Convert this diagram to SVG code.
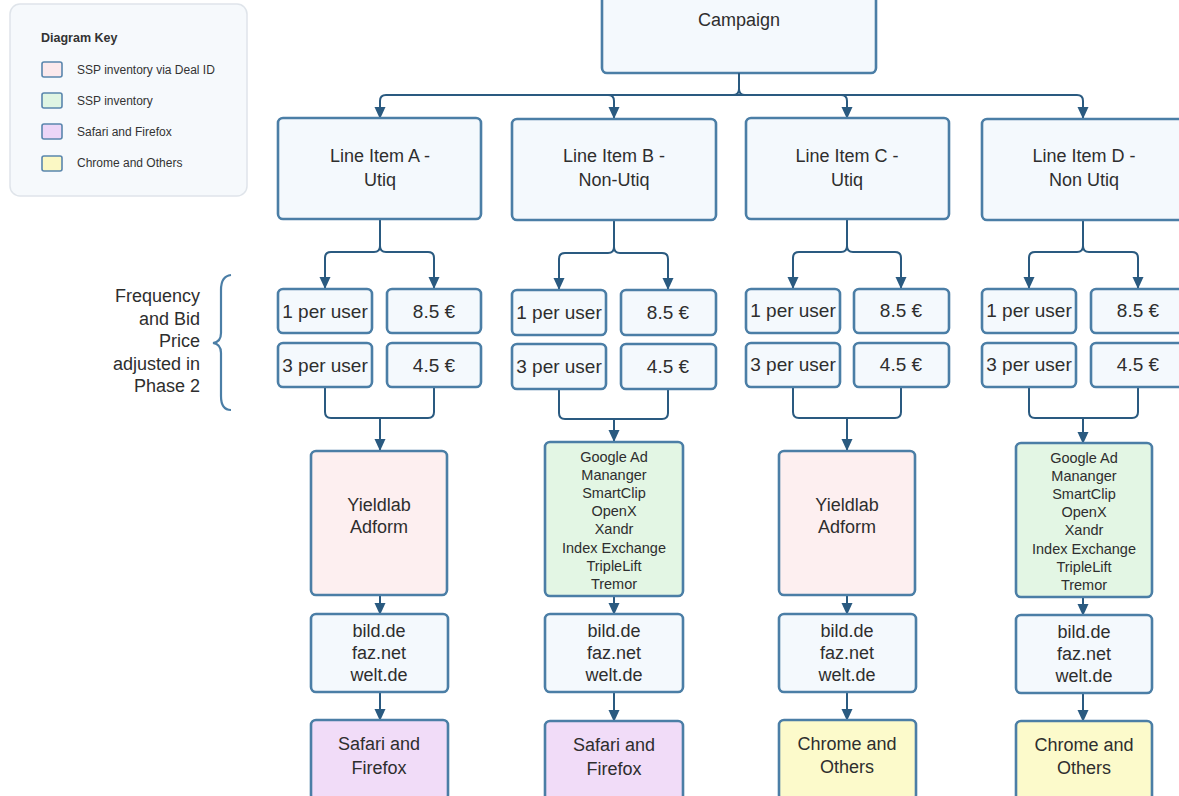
<svg xmlns="http://www.w3.org/2000/svg" width="1179" height="796" viewBox="0 0 1179 796">
<defs>
<style>
.n{fill:#f4f9fd;stroke:#4b7ea6;stroke-width:2.6}
.pink{fill:#fdeff0}
.green{fill:#e3f6e4}
.purple{fill:#f1dcf8}
.yellow{fill:#fcfacb}
.t{font-family:"Liberation Sans",Arial,sans-serif;font-size:18px;fill:#2e2e2e;text-anchor:middle}
.r{font-family:"Liberation Sans",Arial,sans-serif;font-size:18px;fill:#2e2e2e;text-anchor:end}
.s{font-family:"Liberation Sans",Arial,sans-serif;font-size:14.5px;fill:#2e2e2e;text-anchor:middle}
.c{fill:none;stroke:#2a5a80;stroke-width:2}
.k{font-family:"Liberation Sans",Arial,sans-serif;font-size:12px;fill:#333}
.sw{stroke:#5a86ad;stroke-width:1.6}
</style>
<marker id="a" viewBox="0 0 12 12" refX="11" refY="6" markerWidth="12" markerHeight="12" markerUnits="userSpaceOnUse" orient="auto">
<path d="M0,0.5 L12,6 L0,11.5 z" fill="#2a5a80"/>
</marker>
</defs>
<rect width="1179" height="796" fill="#ffffff"/>

<g id="legend">
<rect x="10" y="4" width="237" height="192" rx="10" fill="#f6f9fc" stroke="#dfe4ea" stroke-width="1.5"/>
<text class="k" x="41" y="42" font-weight="bold" style="font-size:12.5px">Diagram Key</text>
<rect class="sw" x="42" y="62" width="20" height="15" rx="2" fill="#fbe9ec"/>
<text class="k" x="77" y="74">SSP inventory via Deal ID</text>
<rect class="sw" x="42" y="93" width="20" height="15" rx="2" fill="#dff5e3"/>
<text class="k" x="77" y="105">SSP inventory</text>
<rect class="sw" x="42" y="124" width="20" height="15" rx="2" fill="#ecd6f7"/>
<text class="k" x="77" y="136">Safari and Firefox</text>
<rect class="sw" x="42" y="156" width="20" height="15" rx="2" fill="#fbf8c4"/>
<text class="k" x="77" y="167">Chrome and Others</text>
</g>

<g id="phase-note">
<path d="M231,275 Q221,276 221,290 V333 Q221,342 213,343 Q221,344 221,353 V396 Q221,410 231,410" fill="none" stroke="#4b7ea6" stroke-width="2.2"/>
<text class="r" x="200" y="302">Frequency</text>
<text class="r" x="200" y="325">and Bid</text>
<text class="r" x="200" y="347">Price</text>
<text class="r" x="200" y="370">adjusted in</text>
<text class="r" x="200" y="392">Phase 2</text>
</g>

<g id="campaign">
<rect class="n" x="602" y="-8" width="274" height="81" rx="5"/>
<text class="t" x="739" y="26">Campaign</text>
</g>

<g id="connectors">
<path class="c" marker-end="url(#a)" d="M739,73 V89 Q739,95 733,95 H386 Q380,95 380,101 V118"/>
<path class="c" marker-end="url(#a)" d="M739,73 V89 Q739,95 745,95 H841 Q847,95 847,101 V118"/>
<path class="c" marker-end="url(#a)" d="M739,95 H608 Q614,95 614,101 V118"/>
<path class="c" marker-end="url(#a)" d="M739,95 H1077 Q1083,95 1083,101 V118"/>

<path class="c" marker-end="url(#a)" d="M380,219 V246 Q380,252 374,252 H331 Q325,252 325,258 V288"/>
<path class="c" marker-end="url(#a)" d="M380,219 V246 Q380,252 386,252 H428 Q434,252 434,258 V288"/>
<path class="c" d="M325,387 V412 Q325,418 331,418 H428 Q434,418 434,412 V387"/>
<path class="c" marker-end="url(#a)" d="M380,418 V450"/>
<path class="c" marker-end="url(#a)" d="M380,595 V614"/>
<path class="c" marker-end="url(#a)" d="M380,692 V720"/>

<path class="c" marker-end="url(#a)" d="M614,221 V247 Q614,253 608,253 H565 Q559,253 559,259 V289"/>
<path class="c" marker-end="url(#a)" d="M614,221 V247 Q614,253 620,253 H662 Q668,253 668,259 V289"/>
<path class="c" d="M559,389 V413 Q559,419 565,419 H662 Q668,419 668,413 V389"/>
<path class="c" marker-end="url(#a)" d="M614,419 V441"/>
<path class="c" marker-end="url(#a)" d="M614,596 V614"/>
<path class="c" marker-end="url(#a)" d="M614,692 V721"/>

<path class="c" marker-end="url(#a)" d="M847,220 V246 Q847,252 841,252 H799 Q793,252 793,258 V288"/>
<path class="c" marker-end="url(#a)" d="M847,220 V246 Q847,252 853,252 H895 Q901,252 901,258 V288"/>
<path class="c" d="M793,387 V412 Q793,418 799,418 H895 Q901,418 901,412 V387"/>
<path class="c" marker-end="url(#a)" d="M847,418 V450"/>
<path class="c" marker-end="url(#a)" d="M847,595 V614"/>
<path class="c" marker-end="url(#a)" d="M847,692 V720"/>

<path class="c" marker-end="url(#a)" d="M1083,220 V246 Q1083,252 1077,252 H1035 Q1029,252 1029,258 V288"/>
<path class="c" marker-end="url(#a)" d="M1083,220 V246 Q1083,252 1089,252 H1132 Q1138,252 1138,258 V288"/>
<path class="c" d="M1029,387 V412 Q1029,418 1035,418 H1132 Q1138,418 1138,412 V387"/>
<path class="c" marker-end="url(#a)" d="M1083,418 V443"/>
<path class="c" marker-end="url(#a)" d="M1083,597 V615"/>
<path class="c" marker-end="url(#a)" d="M1083,693 V721"/>
</g>

<g id="line-item-a">
<rect class="n" x="278" y="118" width="203" height="101" rx="5"/>
<text class="t" x="380" y="162">Line Item A -</text>
<text class="t" x="380" y="186">Utiq</text>
</g>
<g id="line-item-b">
<rect class="n" x="512" y="119" width="204" height="101" rx="5"/>
<text class="t" x="614" y="162">Line Item B -</text>
<text class="t" x="614" y="186">Non-Utiq</text>
</g>
<g id="line-item-c">
<rect class="n" x="746" y="118" width="203" height="101" rx="5"/>
<text class="t" x="847" y="162">Line Item C -</text>
<text class="t" x="847" y="186">Utiq</text>
</g>
<g id="line-item-d">
<rect class="n" x="982" y="119" width="204" height="101" rx="5"/>
<text class="t" x="1084" y="162">Line Item D -</text>
<text class="t" x="1084" y="186">Non Utiq</text>
</g>

<g id="a-freq1"><rect class="n" x="278" y="289" width="94" height="44" rx="5"/><text class="t" x="325" y="318" style="font-size:19px">1 per user</text></g>
<g id="a-price1"><rect class="n" x="387" y="289" width="94" height="44" rx="5"/><text class="t" x="434" y="318" style="font-size:19px">8.5 €</text></g>
<g id="a-freq3"><rect class="n" x="278" y="343" width="94" height="44" rx="5"/><text class="t" x="325" y="372" style="font-size:19px">3 per user</text></g>
<g id="a-price2"><rect class="n" x="387" y="343" width="94" height="44" rx="5"/><text class="t" x="434" y="372" style="font-size:19px">4.5 €</text></g>

<g id="b-freq1"><rect class="n" x="512" y="290" width="94" height="45" rx="5"/><text class="t" x="559" y="319" style="font-size:19px">1 per user</text></g>
<g id="b-price1"><rect class="n" x="621" y="290" width="95" height="45" rx="5"/><text class="t" x="668" y="319" style="font-size:19px">8.5 €</text></g>
<g id="b-freq3"><rect class="n" x="512" y="344" width="94" height="45" rx="5"/><text class="t" x="559" y="373" style="font-size:19px">3 per user</text></g>
<g id="b-price2"><rect class="n" x="621" y="344" width="95" height="45" rx="5"/><text class="t" x="668" y="373" style="font-size:19px">4.5 €</text></g>

<g id="c-freq1"><rect class="n" x="746" y="289" width="94" height="44" rx="5"/><text class="t" x="793" y="317" style="font-size:19px">1 per user</text></g>
<g id="c-price1"><rect class="n" x="854" y="289" width="95" height="44" rx="5"/><text class="t" x="901" y="317" style="font-size:19px">8.5 €</text></g>
<g id="c-freq3"><rect class="n" x="746" y="343" width="94" height="44" rx="5"/><text class="t" x="793" y="371" style="font-size:19px">3 per user</text></g>
<g id="c-price2"><rect class="n" x="854" y="343" width="95" height="44" rx="5"/><text class="t" x="901" y="371" style="font-size:19px">4.5 €</text></g>

<g id="d-freq1"><rect class="n" x="982" y="289" width="94" height="44" rx="5"/><text class="t" x="1029" y="317" style="font-size:19px">1 per user</text></g>
<g id="d-price1"><rect class="n" x="1091" y="289" width="95" height="44" rx="5"/><text class="t" x="1138" y="317" style="font-size:19px">8.5 €</text></g>
<g id="d-freq3"><rect class="n" x="982" y="343" width="94" height="44" rx="5"/><text class="t" x="1029" y="371" style="font-size:19px">3 per user</text></g>
<g id="d-price2"><rect class="n" x="1091" y="343" width="95" height="44" rx="5"/><text class="t" x="1138" y="371" style="font-size:19px">4.5 €</text></g>

<g id="a-ssp">
<rect class="n pink" x="311" y="451" width="136" height="144" rx="5"/>
<text class="t" x="379" y="511">Yieldlab</text>
<text class="t" x="379" y="533">Adform</text>
</g>
<g id="b-ssp">
<rect class="n green" x="545" y="442" width="138" height="154" rx="5"/>
<text class="s" x="614" y="462">Google Ad</text>
<text class="s" x="614" y="480">Mananger</text>
<text class="s" x="614" y="498">SmartClip</text>
<text class="s" x="614" y="516">OpenX</text>
<text class="s" x="614" y="534">Xandr</text>
<text class="s" x="614" y="553">Index Exchange</text>
<text class="s" x="614" y="571">TripleLift</text>
<text class="s" x="614" y="589">Tremor</text>
</g>
<g id="c-ssp">
<rect class="n pink" x="779" y="451" width="136" height="144" rx="5"/>
<text class="t" x="847" y="511">Yieldlab</text>
<text class="t" x="847" y="533">Adform</text>
</g>
<g id="d-ssp">
<rect class="n green" x="1016" y="443" width="136" height="154" rx="5"/>
<text class="s" x="1084" y="463">Google Ad</text>
<text class="s" x="1084" y="481">Mananger</text>
<text class="s" x="1084" y="499">SmartClip</text>
<text class="s" x="1084" y="517">OpenX</text>
<text class="s" x="1084" y="535">Xandr</text>
<text class="s" x="1084" y="554">Index Exchange</text>
<text class="s" x="1084" y="572">TripleLift</text>
<text class="s" x="1084" y="590">Tremor</text>
</g>

<g id="a-sites">
<rect class="n" x="311" y="614" width="137" height="78" rx="5"/>
<text class="t" x="379" y="637">bild.de</text>
<text class="t" x="379" y="659">faz.net</text>
<text class="t" x="379" y="681">welt.de</text>
</g>
<g id="b-sites">
<rect class="n" x="545" y="614" width="138" height="78" rx="5"/>
<text class="t" x="614" y="637">bild.de</text>
<text class="t" x="614" y="659">faz.net</text>
<text class="t" x="614" y="681">welt.de</text>
</g>
<g id="c-sites">
<rect class="n" x="779" y="614" width="137" height="78" rx="5"/>
<text class="t" x="847" y="637">bild.de</text>
<text class="t" x="847" y="659">faz.net</text>
<text class="t" x="847" y="681">welt.de</text>
</g>
<g id="d-sites">
<rect class="n" x="1016" y="615" width="136" height="78" rx="5"/>
<text class="t" x="1084" y="638">bild.de</text>
<text class="t" x="1084" y="660">faz.net</text>
<text class="t" x="1084" y="682">welt.de</text>
</g>

<g id="a-browser">
<rect class="n purple" x="311" y="720" width="137" height="80" rx="5"/>
<text class="t" x="379" y="750">Safari and</text>
<text class="t" x="379" y="774">Firefox</text>
</g>
<g id="b-browser">
<rect class="n purple" x="545" y="721" width="138" height="80" rx="5"/>
<text class="t" x="614" y="751">Safari and</text>
<text class="t" x="614" y="775">Firefox</text>
</g>
<g id="c-browser">
<rect class="n yellow" x="779" y="720" width="137" height="80" rx="5"/>
<text class="t" x="847" y="750">Chrome and</text>
<text class="t" x="847" y="773">Others</text>
</g>
<g id="d-browser">
<rect class="n yellow" x="1016" y="721" width="136" height="80" rx="5"/>
<text class="t" x="1084" y="751">Chrome and</text>
<text class="t" x="1084" y="774">Others</text>
</g>
</svg>
